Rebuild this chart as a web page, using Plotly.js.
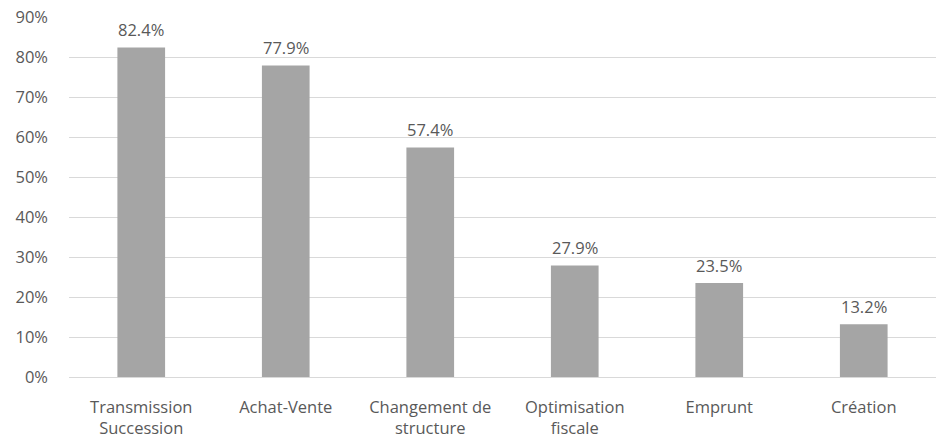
<!DOCTYPE html>
<html>
<head>
<meta charset="utf-8">
<script src="https://cdn.plot.ly/plotly-3.0.1.min.js"></script>
<style>html,body{margin:0;padding:0;background:#fff;}#chart{width:936px;height:443px;}</style>
</head>
<body>
<div id="chart"></div>
<script>
const categories = ["Transmission<br>Succession", "Achat-Vente", "Changement de<br>structure", "Optimisation<br>fiscale", "Emprunt", "Création"];
const values = [0.824, 0.779, 0.574, 0.279, 0.235, 0.132];
const yTickVals = [0, 0.1, 0.2, 0.3, 0.4, 0.5, 0.6, 0.7, 0.8, 0.9];

const FONT = 'Open Sans, sans-serif';
const trace = {
  type: 'bar',
  x: categories,
  y: values,
  marker: {color: '#a5a5a5'},
  hoverinfo: 'none'
};

const annotations = categories.map((c, i) => ({
  x: c, y: values[i], xref: 'x', yref: 'y',
  text: (values[i] * 100).toFixed(1) + '%',
  showarrow: false, yanchor: 'bottom', yshift: 4,
  font: {family: FONT, size: 16.5, color: '#595959'}
}));

const layout = {
  width: 936, height: 443,
  margin: {l: 69, r: 0, t: 17, b: 66},
  paper_bgcolor: '#fff', plot_bgcolor: '#fff',
  bargap: 0.67,
  showlegend: false,
  font: {family: FONT, size: 16.5, color: '#595959'},
  annotations: annotations,
  xaxis: {
    showgrid: false, zeroline: false, showline: false,
    ticks: '', ticklabelstandoff: 18,
    tickfont: {family: FONT, size: 16.5, color: '#595959'}, fixedrange: true
  },
  yaxis: {
    range: [0, 0.9], tickvals: yTickVals, tickformat: '.0%',
    showgrid: true, gridcolor: '#d9d9d9', gridwidth: 1,
    zeroline: true, zerolinecolor: '#d9d9d9', zerolinewidth: 1,
    showline: false, ticks: '', ticklabelstandoff: 20,
    tickfont: {family: FONT, size: 16.5, color: '#595959'}, fixedrange: true
  }
};

Plotly.newPlot('chart', [trace], layout, {displayModeBar: false, staticPlot: true});
</script>
</body>
</html>
